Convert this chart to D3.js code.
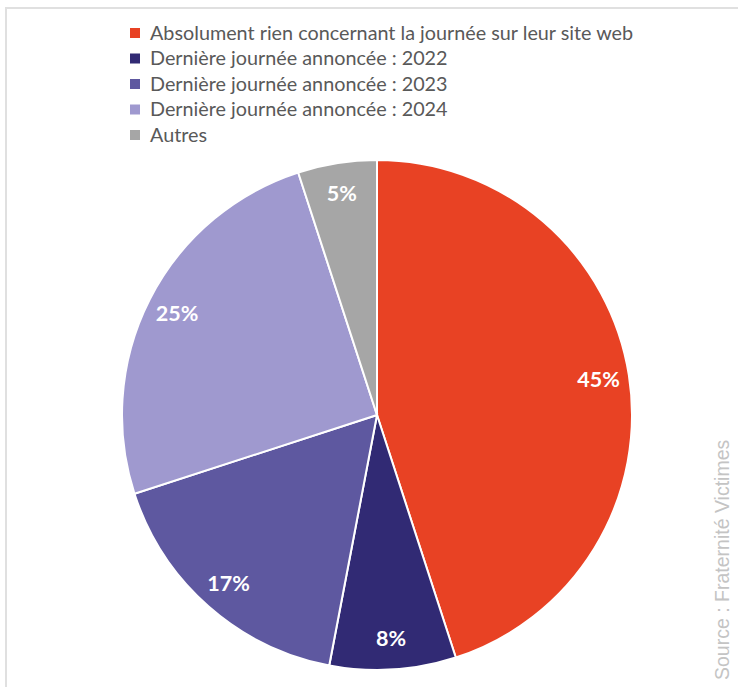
<!DOCTYPE html>
<html>
<head>
  <script src="https://d3js.org/d3.v7.min.js"></script>
  <style>
    body { margin: 0; background: #fff; }
    .legend text { font-family: Lato, sans-serif; font-size: 19.8px; fill: #595959; }
    .slice-label { font-family: Lato, sans-serif; font-size: 21.5px; font-weight: bold; fill: #fff; text-anchor: middle; }
    .source { font-family: "Liberation Sans", Arial, sans-serif; font-size: 19.5px; fill: #c4c4c4; }
  </style>
</head>
<body>
  <div id="chart"></div>
  <script>
    const categories = [
      "Absolument rien concernant la journée sur leur site web",
      "Dernière journée annoncée : 2022",
      "Dernière journée annoncée : 2023",
      "Dernière journée annoncée : 2024",
      "Autres"
    ];
    const values = [45, 8, 17, 25, 5];
    const colors = ["#e84224", "#312a74", "#5e58a0", "#9f99cf", "#a6a6a6"];

    const width = 738, height = 687;
    const cx = 377, cy = 415, radius = 255;

    const svg = d3.select("#chart").append("svg")
      .attr("width", width)
      .attr("height", height);

    // frame
    svg.append("path")
      .attr("d", `M6,${height} V8 H${width}`)
      .attr("fill", "none")
      .attr("stroke", "#e0e0e0")
      .attr("stroke-width", 2);

    const data = categories.map((c, i) => ({ name: c, value: values[i], color: colors[i] }));

    const pie = d3.pie().sort(null).value(d => d.value);
    const arc = d3.arc().innerRadius(0).outerRadius(radius);
    const labelArc = d3.arc().innerRadius(radius * 0.88).outerRadius(radius * 0.88);

    const g = svg.append("g").attr("transform", `translate(${cx},${cy})`);

    g.selectAll("path")
      .data(pie(data))
      .join("path")
        .attr("d", arc)
        .attr("fill", d => d.data.color)
        .attr("stroke", "#fff")
        .attr("stroke-width", 2);

    g.selectAll(".slice-label")
      .data(pie(data))
      .join("text")
        .attr("class", "slice-label")
        .attr("transform", d => `translate(${labelArc.centroid(d)})`)
        .attr("dy", "0.35em")
        .text(d => d.data.value + "%");

    // legend
    const legend = svg.append("g").attr("class", "legend")
      .attr("transform", "translate(130,33)");
    const rows = legend.selectAll("g")
      .data(data)
      .join("g")
        .attr("transform", (d, i) => `translate(0,${i * 25.5})`);
    rows.append("rect")
      .attr("x", 0).attr("y", -5)
      .attr("width", 10).attr("height", 10)
      .attr("fill", d => d.color);
    rows.append("text")
      .attr("x", 20)
      .attr("dy", "0.35em")
      .text(d => d.name);

    // source
    svg.append("text")
      .attr("class", "source")
      .attr("transform", "translate(729,680) rotate(-90)")
      .text("Source : Fraternité Victimes");
  </script>
</body>
</html>
